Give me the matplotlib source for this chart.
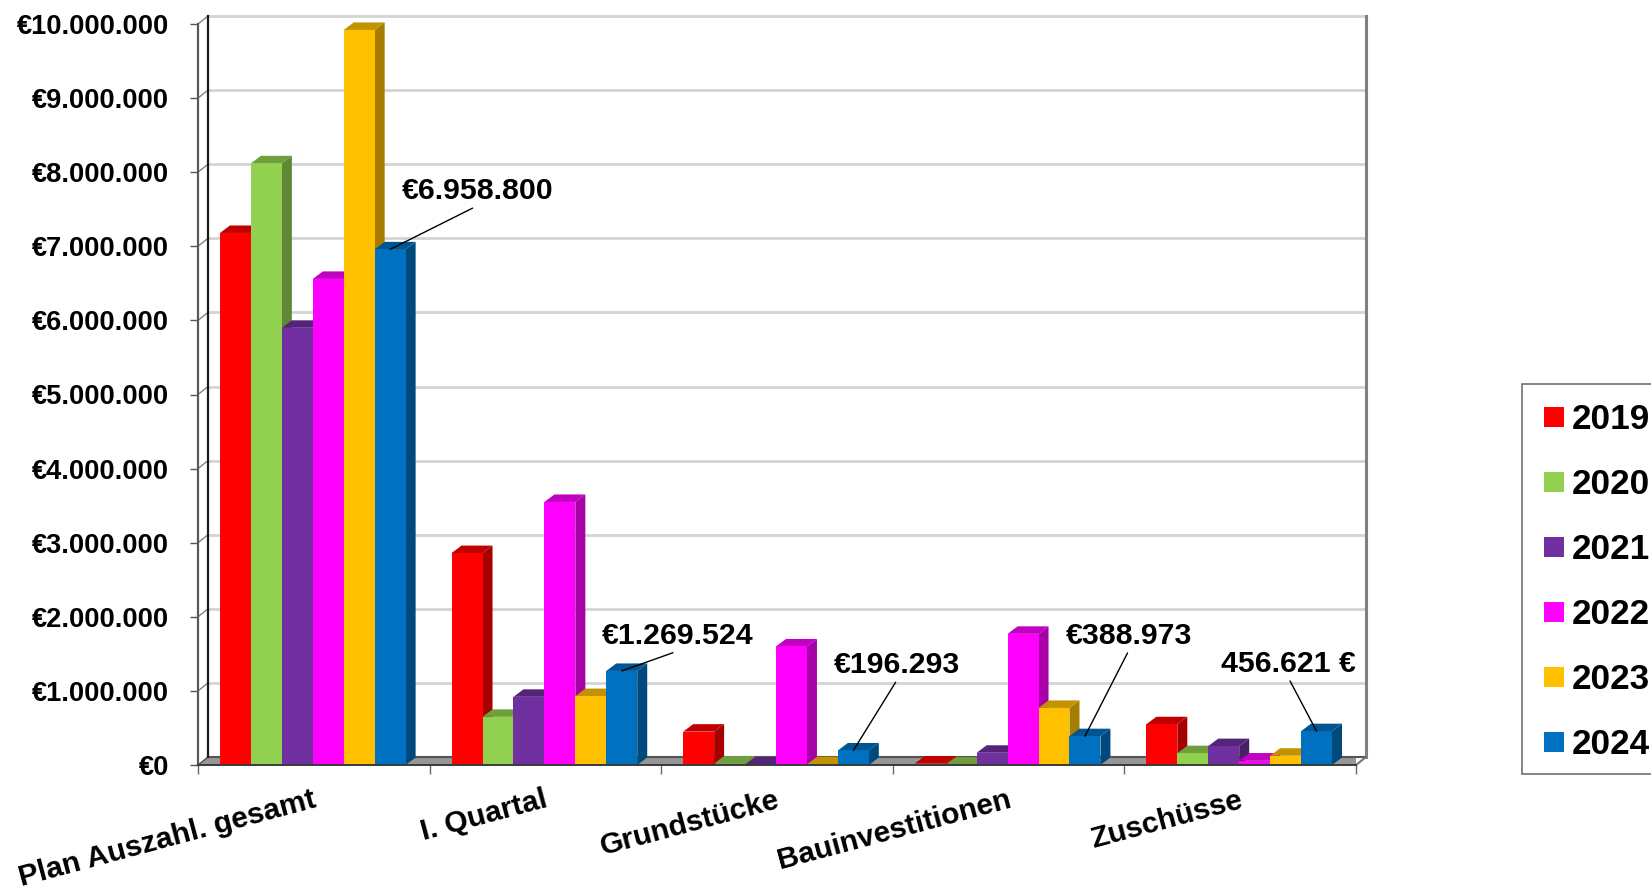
import matplotlib
matplotlib.use("Agg")
import matplotlib.pyplot as plt
from matplotlib.colors import to_rgb
from matplotlib.legend_handler import HandlerPatch
from matplotlib.patches import Polygon, Patch, Rectangle
from matplotlib.ticker import FuncFormatter, FixedLocator

plt.rcParams['font.family'] = ['Liberation Sans', 'DejaVu Sans']
plt.rcParams['font.weight'] = 'bold'

categories = ["Plan Auszahl. gesamt", "I. Quartal", "Grundstücke", "Bauinvestitionen", "Zuschüsse"]
years = ["2019", "2020", "2021", "2022", "2023", "2024"]
v2019 = [7180000, 2860000, 450000, 20000, 550000]
v2020 = [8120000, 650000, 20000, 5000, 160000]
v2021 = [5900000, 920000, 5000, 165000, 255000]
v2022 = [6560000, 3550000, 1600000, 1770000, 60000]
v2023 = [9920000, 930000, 10000, 770000, 125000]
v2024 = [6958800, 1269524, 196293, 388973, 456621]
series = [v2019, v2020, v2021, v2022, v2023, v2024]
colors = ["#FF0000", "#92D050", "#7030A0", "#FF00FF", "#FFC000", "#0070C0"]

callouts = [
    (0, "€6.958.800", 88, 58, 0.5),
    (1, "€1.269.524", 56, 35, 0.52),
    (2, "€196.293", 44, 85, 0.5),
    (3, "€388.973", 44, 100, 0.5),
    (4, "456.621 €", -28, 67, 0.5),
]

W, H = 1651, 889
L, R, T, B = 198, 1356, 24, 765
DX, DY = 10.0, 8.0
BW, BDX, BDY, BSHIFT = 0.1336, 10.0, 7.5, -1.0

fig = plt.figure(figsize=(W / 100, H / 100), dpi=100)
ax = fig.add_axes([L / W, 1 - B / H, (R - L) / W, (B - T) / H])
ax.set_xlim(0, len(categories))
ax.set_ylim(0, 10000000)
px = len(categories) / (R - L)
py = 10000000 / (B - T)
dx, dy = DX * px, DY * py
bdx, bdy = BDX * px, BDY * py
n = len(categories)

for s in ax.spines.values():
    s.set_visible(False)
ax.patch.set_visible(False)

# chart walls and floor
floor = Polygon([(0, 0), (n, 0), (n + dx, dy), (dx, dy)], closed=True, fc="#969696", ec="none", zorder=1)
ax.add_patch(floor)
ticks_y = list(range(0, 10000001, 1000000))
for t in ticks_y[1:]:
    ax.plot([dx, n + dx], [t + dy, t + dy], color="#D4D4D4", lw=2.0, zorder=1, clip_on=False)
    ax.plot([0, dx], [t, t + dy], color="#777777", lw=0.9, zorder=1, clip_on=False)
ax.plot([dx, n + dx], [dy, dy], color="#555555", lw=1.5, zorder=1, clip_on=False)
ax.plot([0, dx], [0, dy], color="#555555", lw=1.0, zorder=1, clip_on=False)
ax.plot([n, n + dx], [0, dy], color="#777777", lw=1.5, zorder=2, clip_on=False)
ax.plot([n + dx, n + dx], [dy, 10000000 + dy], color="#808080", lw=2.2, zorder=1, clip_on=False)
ax.plot([0, 0], [0, 10000000], color="#595959", lw=1.6, zorder=2, clip_on=False)
ax.plot([dx, dx], [dy, 10000000 + dy], color="#1A1A1A", lw=1.6, zorder=2, clip_on=False)
ax.plot([0, n], [0, 0], color="#3A3A3A", lw=1.4, zorder=30, clip_on=False)

# bars with side and top faces
z = 5
for i, (vals, col) in enumerate(zip(series, colors)):
    rgb = to_rgb(col)
    side = tuple(c * 0.65 for c in rgb)
    top = tuple(c * 0.76 for c in rgb)
    xs = [k + 0.5 + (i - 2.5) * BW + BSHIFT * px for k in range(n)]
    rects = ax.bar(xs, vals, width=BW, color=col, linewidth=0, zorder=z + 2, clip_on=False)
    for x, v, r in zip(xs, vals, rects):
        x0, x1 = x - BW / 2, x + BW / 2
        ax.add_patch(Polygon([(x1, 0), (x1 + bdx, bdy), (x1 + bdx, v + bdy), (x1, v)], closed=True,
                             fc=side, ec="none", zorder=z, clip_on=False))
        ax.add_patch(Polygon([(x0, v), (x1, v), (x1 + bdx, v + bdy), (x0 + bdx, v + bdy)], closed=True,
                             fc=top, ec="none", zorder=z + 1, clip_on=False))
    z += 3

# axes ticks and labels
ax.set_yticks(ticks_y)
ax.yaxis.set_major_formatter(FuncFormatter(lambda v, _: "€" + f"{int(v):,}".replace(",", ".")))
ax.tick_params(axis='y', length=5.8, width=1.0, color="#555555", pad=15, labelsize=19.6)
for lab in ax.get_yticklabels():
    lab.set_fontweight('bold')

ax.set_xticks([k + 0.5 - 2 * px for k in range(n)])
ax.set_xticklabels(categories, rotation=15, ha='right', va='top', rotation_mode='anchor', fontsize=21.5, fontweight='bold')
ax.xaxis.set_minor_locator(FixedLocator(list(range(n + 1))))
ax.tick_params(axis='x', which='major', length=0, pad=15)
ax.tick_params(axis='x', which='minor', length=6.5, width=1.0, color="#666666")

# callouts pointing at the 2024 bars
for k, text, ox, oy, rx in callouts:
    x = k + 0.5 + 2.5 * BW + BSHIFT * px
    ax.annotate(text, xy=(x, series[-1][k]), xycoords='data', xytext=(ox, oy), textcoords='offset pixels',
                ha='center', va='center', fontsize=21.8, fontweight='bold', zorder=40,
                arrowprops=dict(arrowstyle='-', color='black', lw=1.0, relpos=(rx, 0), shrinkA=0, shrinkB=0))


# legend: square keys set to the right of their handle box
def square_key(legend, orig_handle, xdescent, ydescent, width, height, fontsize):
    return Rectangle((width - height - xdescent, -ydescent), height, height)


fig.add_artist(Rectangle((1522 / W, 1 - 774 / H), 140 / W, 390 / H, transform=fig.transFigure,
                         fc="white", ec="#707070", lw=1.2))
handles = [Patch(fc=c, ec='none', label=y) for c, y in zip(colors, years)]
leg = fig.legend(handles=handles, loc='upper left', bbox_to_anchor=(1522 / W, 1 - 384 / H),
                 bbox_transform=fig.transFigure, ncol=1, frameon=False, fontsize=25.3,
                 borderaxespad=0, borderpad=0.55,
                 handlelength=0.65, handleheight=0.52, handletextpad=0.22, labelspacing=0.91,
                 handler_map={Patch: HandlerPatch(patch_func=square_key)})

fig.savefig("out.png", dpi=100, facecolor="white")
